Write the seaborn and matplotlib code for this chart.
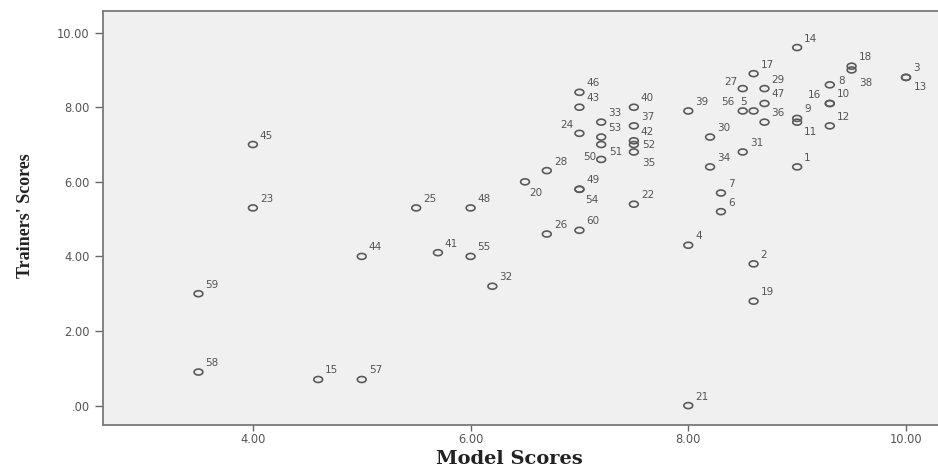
import numpy as np
import pandas as pd
import matplotlib
matplotlib.use("Agg")
import matplotlib.pyplot as plt
from matplotlib.path import Path
import seaborn as sns

# ---------------- data ----------------
ids = list(range(1, 61))
model_scores = [9.0, 8.6, 10.0, 8.0, 8.6, 8.3, 8.3, 9.3, 9.0, 9.3,
                9.0, 9.3, 10.0, 9.0, 4.6, 9.3, 8.6, 9.5, 8.6, 6.5,
                8.0, 7.5, 4.0, 7.0, 5.5, 6.7, 8.5, 6.7, 8.7, 8.2,
                8.5, 6.2, 7.2, 8.2, 7.5, 8.7, 7.5, 9.5, 8.0, 7.5,
                5.7, 7.5, 7.0, 5.0, 4.0, 7.0, 8.7, 6.0, 7.0, 7.2,
                7.2, 7.5, 7.2, 7.0, 6.0, 8.5, 5.0, 3.5, 3.5, 7.0]
trainer_scores = [6.4, 3.8, 8.8, 4.3, 7.9, 5.2, 5.7, 8.6, 7.7, 8.1,
                  7.6, 7.5, 8.8, 9.6, 0.7, 8.1, 8.9, 9.1, 2.8, 6.0,
                  0.0, 5.4, 5.3, 7.3, 5.3, 4.6, 8.5, 6.3, 8.5, 7.2,
                  6.8, 3.2, 7.6, 6.4, 6.8, 7.6, 7.5, 9.0, 7.9, 8.0,
                  4.1, 7.1, 8.0, 4.0, 7.0, 8.4, 8.1, 5.3, 5.8, 6.6,
                  7.0, 7.0, 7.2, 5.8, 4.0, 7.9, 0.7, 0.9, 3.0, 4.7]
x_ticks = [4.0, 6.0, 8.0, 10.0]
x_tick_labels = ["4.00", "6.00", "8.00", "10.00"]
y_ticks = [0.0, 2.0, 4.0, 6.0, 8.0, 10.0]
y_tick_labels = [".00", "2.00", "4.00", "6.00", "8.00", "10.00"]
x_title = "Model Scores"
y_title = "Trainers' Scores"

df = pd.DataFrame({"id": ids, "model": model_scores, "trainer": trainer_scores})

# label placement (offset pixels, alignment) for crowded points
default_off = (7, 6, "left")
label_offsets = {
    24: (-6, 5, "right"), 51: (8, -10, "left"), 50: (-5, -1, "right"),
    52: (8, -3, "left"), 35: (8, -14, "left"), 54: (6, -14, "left"),
    20: (4, -14, "left"), 27: (-5, 4, "right"), 56: (-8, 6, "right"),
    5: (-7, 6, "right"), 11: (7, -13, "left"), 38: (8, -16, "left"),
    16: (-9, 5, "right"), 13: (8, -13, "left"), 8: (8, 1, "left"),
}

# ---------------- style ----------------
sns.set_theme(style="white")
plt.rcParams["font.family"] = ["DejaVu Sans"]

fig = plt.figure(figsize=(9.38, 4.70), dpi=100)
fig.patch.set_facecolor("white")
ax = fig.add_axes([103 / 938, 45 / 470, 835 / 938, 414 / 470])
ax.set_facecolor("#f0f0f0")

# ellipse marker (wider than tall, like the reference)
t = np.linspace(0, 2 * np.pi, 60)
ell = Path(np.column_stack([np.cos(t), 0.68 * np.sin(t)]), closed=True)

sns.scatterplot(data=df, x="model", y="trainer", ax=ax, marker=ell, s=40,
                facecolors="none", edgecolor="#5a5a5a", linewidth=1.2,
                legend=False, zorder=3)
for coll in ax.collections:
    coll.set_facecolor("none")

for i, xv, yv in zip(ids, model_scores, trainer_scores):
    dx, dy, ha = label_offsets.get(i, default_off)
    ax.annotate(str(i), (xv, yv), xytext=(dx, dy), textcoords="offset pixels",
                ha=ha, va="baseline", fontsize=7.5, color="#555555", zorder=4)

ax.set_xlim(2.623, 10.294)
ax.set_ylim(-0.52, 10.58)
ax.set_xticks(x_ticks)
ax.set_xticklabels(x_tick_labels)
ax.set_yticks(y_ticks)
ax.set_yticklabels(y_tick_labels)
ax.tick_params(axis="both", which="major", direction="out", width=1.0,
               color="#666666", labelsize=8.3, labelcolor="#555555",
               left=True, bottom=True)
ax.tick_params(axis="y", length=6, pad=3.5)
ax.tick_params(axis="x", length=4, pad=2)

for side in ["top", "left", "bottom"]:
    ax.spines[side].set_visible(True)
    ax.spines[side].set_color("#7a7a7a")
    ax.spines[side].set_linewidth(1.3)
ax.spines["right"].set_visible(False)

ax.set_xlabel(x_title, fontfamily="DejaVu Serif", fontweight="bold",
              fontsize=14, color="#222222")
ax.xaxis.set_label_coords((509 - 103) / 835, -0.06)
ax.set_ylabel(y_title, fontfamily="Liberation Serif", fontweight="bold",
              fontsize=13, color="#222222")
ax.yaxis.set_label_coords((34 - 103) / 835, 0.505)

fig.savefig("out.png", dpi=100, facecolor="white")
